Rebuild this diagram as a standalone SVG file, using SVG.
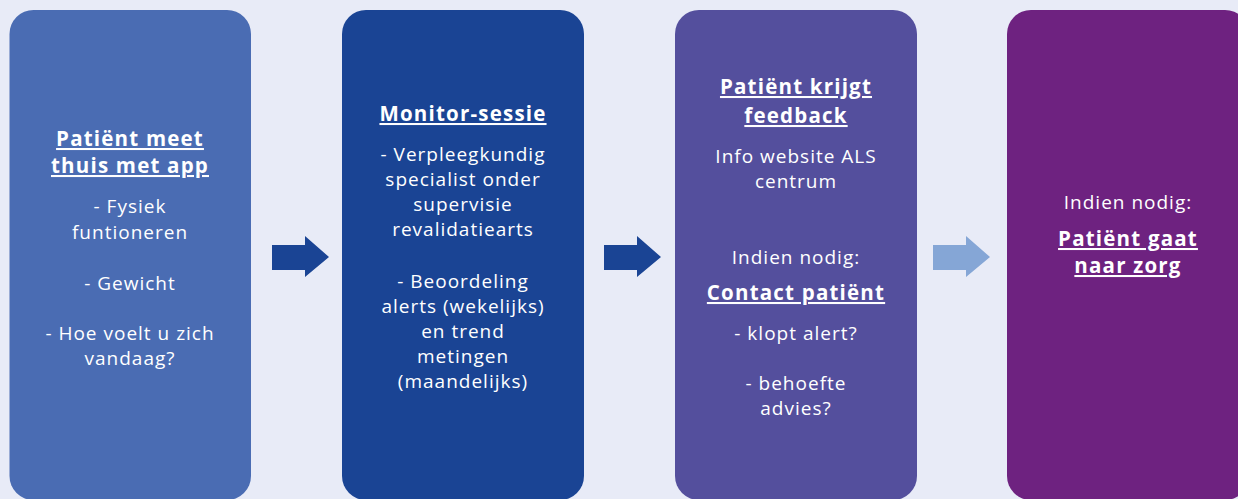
<svg xmlns="http://www.w3.org/2000/svg" width="1238" height="499" viewBox="0 0 1238 499">
<style>
text{font-family:"Open Sans","Liberation Sans",sans-serif;font-size:19px;fill:#ffffff;text-anchor:middle;letter-spacing:1px}
.t{font-weight:bold;font-size:20.5px;text-decoration:underline;letter-spacing:1.2px}
</style>
<rect width="1238" height="499" fill="#e8ebf7"/>
<g id="node1">
<rect x="9.5" y="10" width="241.5" height="490" rx="24" fill="#4a6cb3"/>
<text x="130" y="146" class="t">Patiënt meet</text>
<text x="130" y="173" class="t">thuis met app</text>
<text x="130" y="213">- Fysiek</text>
<text x="130" y="239">funtioneren</text>
<text x="130" y="290">- Gewicht</text>
<text x="130" y="340">- Hoe voelt u zich</text>
<text x="130" y="365">vandaag?</text>
</g>
<g id="node2">
<rect x="342" y="10" width="242" height="490" rx="24" fill="#1a4494"/>
<text x="463" y="121" class="t">Monitor-sessie</text>
<text x="463" y="161">- Verpleegkundig</text>
<text x="463" y="186">specialist onder</text>
<text x="463" y="211">supervisie</text>
<text x="463" y="236">revalidatiearts</text>
<text x="463" y="288">- Beoordeling</text>
<text x="463" y="313">alerts (wekelijks)</text>
<text x="463" y="338">en trend</text>
<text x="463" y="363">metingen</text>
<text x="463" y="388">(maandelijks)</text>
</g>
<g id="node3">
<rect x="675" y="10" width="242" height="490" rx="24" fill="#544f9d"/>
<text x="796" y="94" class="t">Patiënt krijgt</text>
<text x="796" y="123" class="t">feedback</text>
<text x="796" y="163">Info website ALS</text>
<text x="796" y="188">centrum</text>
<text x="796" y="264">Indien nodig:</text>
<text x="796" y="300" class="t">Contact patiënt</text>
<text x="796" y="340">- klopt alert?</text>
<text x="796" y="390">- behoefte</text>
<text x="796" y="415">advies?</text>
</g>
<g id="node4">
<rect x="1007" y="10" width="242" height="490" rx="24" fill="#6e2280"/>
<text x="1128" y="209">Indien nodig:</text>
<text x="1128" y="246" class="t">Patiënt gaat</text>
<text x="1128" y="273" class="t">naar zorg</text>
</g>
<g id="connectors">
<polygon points="272,245 305,245 305,236 329,257 305,277 305,270 272,270" fill="#1a4494"/>
<polygon points="604,245 637,245 637,236 661,257 637,277 637,270 604,270" fill="#1a4494"/>
<polygon points="933,245 966,245 966,236 990,257 966,277 966,270 933,270" fill="#85a6d6"/>
</g>
</svg>
